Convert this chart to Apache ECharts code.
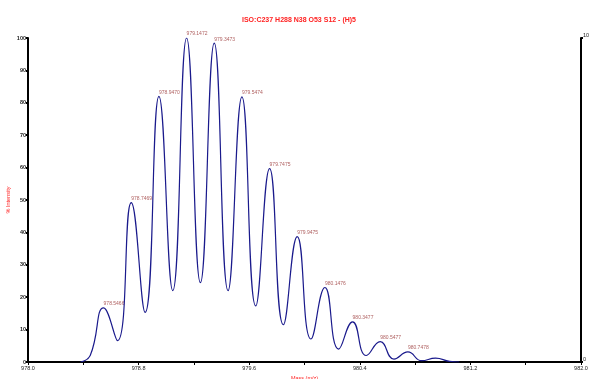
<!DOCTYPE html>
<html>
<head>
<meta charset="utf-8">
<script src="https://cdn.jsdelivr.net/npm/echarts@6/dist/echarts.min.js"></script>
<style>html,body{margin:0;padding:0;background:#fff;}#c{width:589px;height:379px;}</style>
</head>
<body>
<div id="c"></div>
<script>
var titleText = 'ISO:C237 H288 N38 O53 S12 - (H)5';
var xName = 'Mass (m/z)';
var yName = '% Intensity';
var xMin = 978.0, xMax = 982.0;
var yTicks = [0, 10, 20, 30, 40, 50, 60, 70, 80, 90, 100];
// profile points (peaks and valleys)
var profileMz = [978.38, 978.45, 978.5466, 978.647, 978.7469, 978.847,
  978.9470, 979.047, 979.1472, 979.247, 979.3473,
  979.447, 979.5474, 979.647, 979.7475, 979.847,
  979.9475, 980.047, 980.1476, 980.247, 980.3477,
  980.447, 980.5477, 980.647, 980.7478, 980.847,
  980.9478, 981.05, 981.12];
var profileInt = [0, 2, 16.7, 6.6, 49.2, 15.3,
  82, 22, 100, 24.5, 98.4,
  22, 81.8, 17.3, 59.7, 11.5,
  38.7, 7.1, 23, 4, 12.4,
  2, 6.3, 0.9, 3.1, 0.4,
  1.2, 0.2, 0];
var peakLabels = ['978.5466', '978.7469', '978.9470', '979.1472', '979.3473', '979.5474', '979.7475',
  '979.9475', '980.1476', '980.3477', '980.5477', '980.7478'];

var labelFont = "'Liberation Sans Narrow', 'Liberation Sans', Arial, sans-serif";
var lineData = profileMz.map(function (m, i) { return [m, profileInt[i]]; });
var labelData = [];
profileMz.forEach(function (m, i) {
  var txt = m.toFixed(4);
  if (peakLabels.indexOf(txt) >= 0) labelData.push({ value: [m, profileInt[i]], name: txt });
});

var chart = echarts.init(document.getElementById('c'), null, { renderer: 'canvas' });
chart.setOption({
  animation: false,
  backgroundColor: '#fff',
  title: { text: titleText, left: 294, top: 12, textAlign: 'center',
    textStyle: { color: '#ff2222', fontSize: 7, fontWeight: 'bold', fontFamily: labelFont } },
  grid: { left: 28, right: 8, top: 38, bottom: 17, containLabel: false, outerBoundsMode: 'none' },
  xAxis: {
    type: 'value', min: xMin, max: xMax, interval: 0.4,
    name: xName, nameLocation: 'middle', nameGap: 13, nameMoveOverlap: false,
    nameTextStyle: { color: '#ff2222', fontSize: 5.5, fontFamily: labelFont },
    axisLine: { lineStyle: { color: '#000', width: 2 } },
    axisTick: { length: 3, lineStyle: { color: '#000', width: 1 } },
    splitLine: { show: false },
    axisLabel: { fontSize: 5.5, color: '#222', margin: 3, fontFamily: labelFont,
      formatter: function (v) {
        var k = Math.round((v - xMin) / 0.4);
        return k % 2 === 0 ? (xMin + k * 0.4).toFixed(1) : '';
      } }
  },
  yAxis: [{
    type: 'value', min: yTicks[0], max: yTicks[yTicks.length - 1], interval: 10,
    name: yName, nameLocation: 'middle', nameGap: 17, nameMoveOverlap: false,
    nameTextStyle: { color: '#ff2222', fontSize: 5.5, fontFamily: labelFont },
    axisLine: { show: true, lineStyle: { color: '#000', width: 2 } },
    axisTick: { show: true, length: 2, lineStyle: { color: '#000', width: 2 } },
    splitLine: { show: false },
    axisLabel: { fontSize: 5.5, color: '#222', margin: 2, fontFamily: labelFont, fontWeight: 'bold' }
  }, {
    type: 'value', position: 'right', min: 0, max: 10, interval: 10,
    axisLine: { show: true, lineStyle: { color: '#000', width: 2 } },
    axisTick: { show: true, length: 2, lineStyle: { color: '#000', width: 2 } },
    splitLine: { show: false },
    axisLabel: { fontSize: 5.5, color: '#222', margin: 2, fontFamily: labelFont, verticalAlign: 'bottom' }
  }],
  series: [{
    type: 'line', data: lineData, smooth: 0.5, showSymbol: false,
    lineStyle: { color: '#1a1a8c', width: 1.2 },
    emphasis: { disabled: true }
  }, {
    type: 'scatter', data: labelData, symbolSize: 1,
    itemStyle: { color: 'rgba(0,0,0,0)' },
    emphasis: { disabled: true },
    label: { show: true, formatter: '{b}', position: 'top', align: 'left', distance: 1,
      color: '#993333', fontSize: 5, fontFamily: labelFont },
    labelLayout: { hideOverlap: false }
  }]
});
</script>
</body>
</html>
